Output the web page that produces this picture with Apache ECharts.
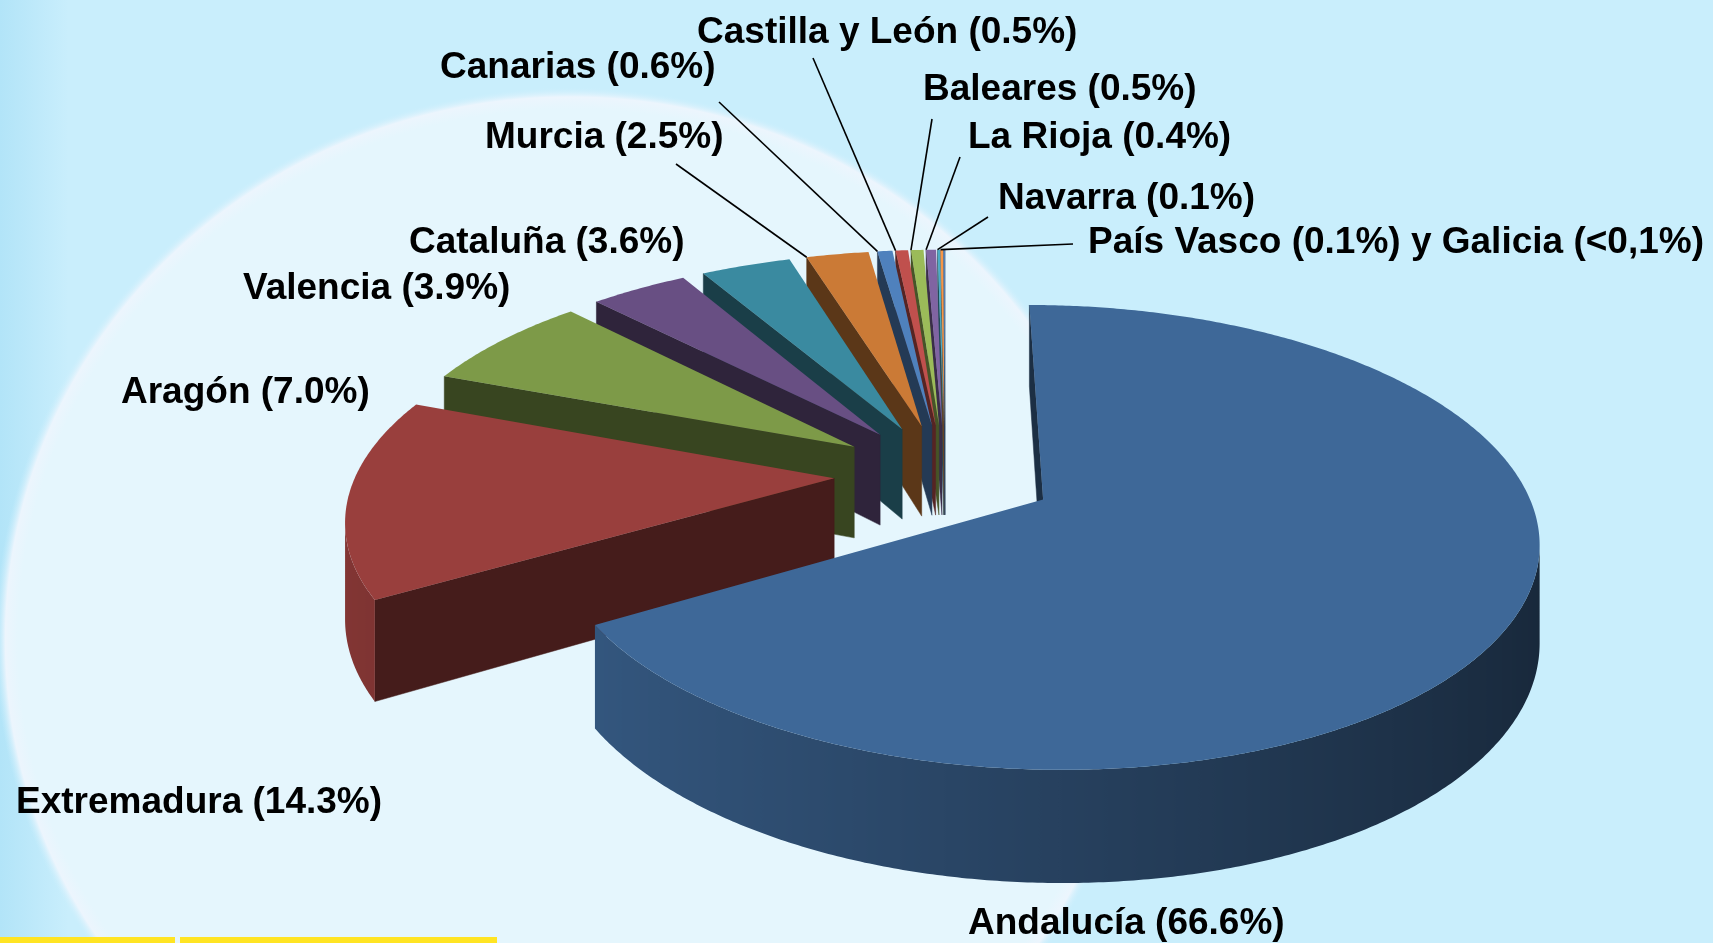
<!DOCTYPE html>
<html>
<head>
<meta charset="utf-8">
<script src="https://cdn.jsdelivr.net/npm/echarts@6/dist/echarts.min.js"></script>
<style>
	html, body { margin: 0; padding: 0; background: #c9eefc; }
	#pie { width: 1713px; height: 943px; }
</style>
</head>
<body>
<div id="pie"></div>
<script>
// share of each region (%)
var regions = ['Andalucía', 'Extremadura', 'Aragón', 'Valencia', 'Cataluña', 'Murcia', 'Canarias',
	'Castilla y León', 'Baleares', 'La Rioja', 'Navarra', 'País Vasco', 'Galicia'
];
var shares = [66.6, 14.3, 7.0, 3.9, 3.6, 2.5, 0.6, 0.5, 0.5, 0.4, 0.1, 0.1, 0.05];
var labelTexts = ['Andalucía (66.6%)', 'Extremadura (14.3%)', 'Aragón (7.0%)', 'Valencia (3.9%)',
	'Cataluña (3.6%)', 'Murcia (2.5%)', 'Canarias (0.6%)', 'Castilla y León (0.5%)', 'Baleares (0.5%)',
	'La Rioja (0.4%)', 'Navarra (0.1%)', 'País Vasco (0.1%) y Galicia (<0,1%)', ''
];
var sliceColors = ['#3e6898', '#993f3d', '#7d9a48', '#684f83', '#3a8aa0', '#cb7a36', '#4f81bd',
	'#c0504d', '#9bbb59', '#8064a2', '#4bacc6', '#f79646', '#4f81bd'
];

// where the labels sit: [text x, text y, leader start x, leader start y]
var labelLayout = [
	[968, 924], [16, 803], [121, 393], [243, 289], [409, 243],
	[485, 138, 676, 164], [440, 68, 719, 102], [697, 33, 813, 58], [923, 90, 932, 119],
	[968, 138, 960, 157], [998, 199, 988, 217], [1088, 243, 1073, 244], null
];

// tilted, exploded 3d pie
var pie = { cx: 945, cy: 474, rx: 478, ry: 218, depth: 93, persp: 0.16, explode: 0.232 };

var total = shares.reduce(function(a, b) { return a + b; }, 0);
var starts = [], ends = [];
var acc = 0;
for (var i = 0; i < shares.length; i++) {
	starts.push(acc / total * Math.PI * 2);
	acc += shares[i];
	ends.push(acc / total * Math.PI * 2);
}

function project(u, v, down) {
	var s = 1 / (1 + pie.persp * v);
	return [pie.cx + pie.rx * u * s, pie.cy - pie.ry * v * s + (down ? pie.depth * s : 0)];
}

function signedArea(p) {
	var s = 0;
	for (var i = 0; i < p.length; i++) {
		var j = (i + 1) % p.length;
		s += p[i][0] * p[j][1] - p[j][0] * p[i][1];
	}
	return s / 2;
}

function shade(hex, f) {
	var n = parseInt(hex.slice(1), 16);
	var r = Math.round(((n >> 16) & 255) * f);
	var g = Math.round(((n >> 8) & 255) * f);
	var b = Math.round((n & 255) * f);
	return 'rgb(' + r + ',' + g + ',' + b + ')';
}

function depthZ(v) {
	return Math.round(3000 - v * 1000);
}

function renderSlice(params, api) {
	var i = params.dataIndex;
	var a0 = starts[i], a1 = ends[i], am = (a0 + a1) / 2;
	var ou = pie.explode * Math.sin(am), ov = pie.explode * Math.cos(am);
	var steps = Math.max(2, Math.ceil((a1 - a0) / (Math.PI / 360)));
	var rim = [];
	for (var k = 0; k <= steps; k++) {
		var t = a0 + (a1 - a0) * k / steps;
		rim.push([ou + Math.sin(t), ov + Math.cos(t), t]);
	}
	var col = sliceColors[i];
	var children = [];

	// top face
	var topPts = [project(ou, ov, false)];
	rim.forEach(function(p) { topPts.push(project(p[0], p[1], false)); });
	children.push({ type: 'polygon', shape: { points: topPts }, style: { fill: col }, z2: 5000 });

	// cut faces
	var first = rim[0], last = rim[rim.length - 1];
	var startWall = [project(ou, ov, false), project(first[0], first[1], false),
		project(first[0], first[1], true), project(ou, ov, true)];
	var endWall = [project(last[0], last[1], false), project(ou, ov, false),
		project(ou, ov, true), project(last[0], last[1], true)];
	var wallCol = shade(col, 0.45);
	if (signedArea(startWall) < 0) {
		children.push({ type: 'polygon', shape: { points: startWall },
			style: { fill: wallCol, stroke: wallCol, lineWidth: 0.5 }, z2: depthZ((ov + first[1]) / 2) });
	}
	if (signedArea(endWall) < 0) {
		children.push({ type: 'polygon', shape: { points: endWall },
			style: { fill: wallCol, stroke: wallCol, lineWidth: 0.5 }, z2: depthZ((ov + last[1]) / 2) });
	}

	// curved outer side: group the segments that face the viewer into runs
	var runs = [], cur = null;
	for (var k = 0; k < rim.length - 1; k++) {
		var p = rim[k], q = rim[k + 1];
		var quad = [project(p[0], p[1], false), project(q[0], q[1], false),
			project(q[0], q[1], true), project(p[0], p[1], true)];
		if (signedArea(quad) < 0) {
			if (!cur) { cur = [k]; runs.push(cur); }
			cur.push(k + 1);
		} else {
			cur = null;
		}
	}
	runs.forEach(function(run) {
		var tops = [], bots = [], stops = [], vs = 0;
		run.forEach(function(j) {
			tops.push(project(rim[j][0], rim[j][1], false));
			bots.unshift(project(rim[j][0], rim[j][1], true));
			vs += rim[j][1];
		});
		var xs = tops.map(function(pt) { return pt[0]; });
		var xmin = Math.min.apply(null, xs), xmax = Math.max.apply(null, xs);
		var span = Math.max(1, xmax - xmin);
		run.forEach(function(j, n) {
			stops.push({ offset: (xs[n] - xmin) / span, color: shade(col, 0.62 - 0.24 * Math.sin(rim[j][2])) });
		});
		stops.sort(function(a, b) { return a.offset - b.offset; });
		children.push({ type: 'polygon', shape: { points: tops.concat(bots) },
			style: { fill: { type: 'linear', x: xmin, y: 0, x2: xmin + span, y2: 0, global: true, colorStops: stops } },
			z2: depthZ(vs / run.length) });
	});

	// label and leader line
	var lay = labelLayout[i];
	if (lay) {
		children.push({ type: 'text', z2: 6000, style: {
			text: labelTexts[i], x: lay[0], y: lay[1],
			fill: '#000', font: 'bold 37px "Liberation Sans", Arial, sans-serif',
			textAlign: 'left', textVerticalAlign: 'middle', align: 'left', verticalAlign: 'middle'
		} });
		if (lay.length > 2) {
			var end = project(first[0], first[1], false);
			children.push({ type: 'line', z2: 6000,
				shape: { x1: lay[2], y1: lay[3], x2: end[0], y2: end[1] },
				style: { stroke: '#000', lineWidth: 1.6 } });
		}
	}
	return { type: 'group', children: children };
}

var myChart = echarts.init(document.getElementById('pie'));
var option = {
	animation: false,
	graphic: {
		elements: [{
			type: 'rect',
			z: -10,
			shape: { x: 0, y: 0, width: 1713, height: 943 },
			style: {
				fill: {
					type: 'linear', x: 0, y: 0, x2: 1, y2: 0,
					colorStops: [{ offset: 0, color: '#b2e4f8' }, { offset: 0.04, color: '#c9eefc' }, { offset: 1, color: '#c9eefc' }]
				}
			}
		}, {
			type: 'circle',
			z: -9,
			x: 570,
			y: 640,
			scaleX: 575 / 553,
			shape: { cx: 0, cy: 0, r: 553 },
			style: {
				fill: {
					type: 'radial', x: 0.5, y: 0.5, r: 0.5,
					colorStops: [
						{ offset: 0, color: '#e5f6fd' },
						{ offset: 0.96, color: '#e5f6fd' },
						{ offset: 0.982, color: '#ecf5fd' },
						{ offset: 1, color: 'rgba(201,238,252,0)' }
					]
				}
			}
		}, {
			type: 'rect',
			z: -8,
			shape: { x: 0, y: 937, width: 175, height: 6 },
			style: { fill: '#ffe423' }
		}, {
			type: 'rect',
			z: -8,
			shape: { x: 180, y: 937, width: 317, height: 6 },
			style: { fill: '#ffe423' }
		}]
	},
	series: [{
		type: 'custom',
		coordinateSystem: 'none',
		silent: true,
		renderItem: renderSlice,
		data: shares.map(function(v, i) { return [i, v]; })
	}]
};
myChart.setOption(option);

window.addEventListener('resize', function() {
	myChart.resize();
});
</script>
</body>
</html>
